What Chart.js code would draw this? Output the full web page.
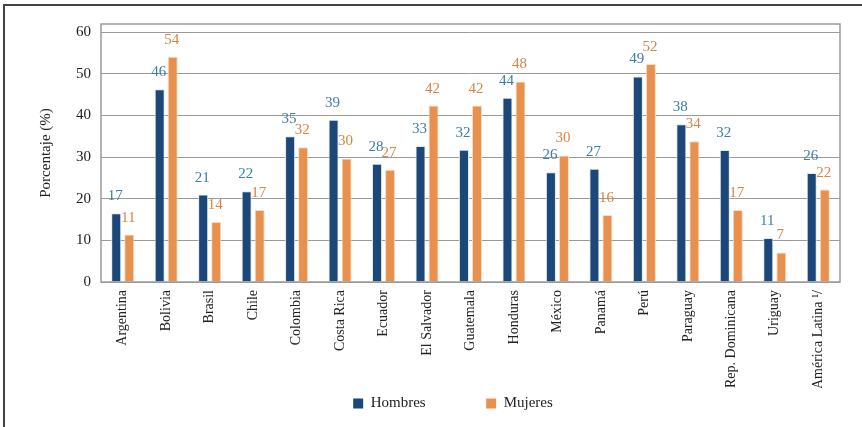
<!DOCTYPE html>
<html>
<head>
<meta charset="utf-8">
<script src="https://cdn.jsdelivr.net/npm/chart.js@4"></script>
<style>
    html, body { margin: 0; padding: 0; background: #fff; }
    #frame {
        position: absolute; left: 3px; top: 4px; width: 859px; height: 423px;
        border-top: 2px solid #444; border-left: 2px solid #444;
    }
    #wrap { position: absolute; left: 0; top: 0; width: 862px; height: 427px; }
</style>
</head>
<body>
<div id="frame"></div>
<div id="wrap"><canvas id="chart" width="862" height="427"></canvas></div>
<script>
const countries = ["Argentina", "Bolivia", "Brasil", "Chile", "Colombia", "Costa Rica", "Ecuador",
    "El Salvador", "Guatemala", "Honduras", "México", "Panamá", "Perú", "Paraguay",
    "Rep. Dominicana", "Uriguay", "América Latina \u00B9/"];
const hombres = [16.5, 46.3, 21.0, 21.8, 35.0, 39.0, 28.4, 32.7, 31.8, 44.3, 26.4, 27.2, 49.4, 37.9, 31.7, 10.6, 26.2];
const mujeres = [11.4, 54.1, 14.4, 17.3, 32.4, 29.7, 27.0, 42.4, 42.4, 48.2, 30.4, 16.1, 52.4, 33.8, 17.3, 7.1, 22.2];
const yTicks = [0, 10, 20, 30, 40, 50, 60];

const serif = "'Liberation Serif', 'DejaVu Serif', serif";

// gray box round the plot area
const plotFrame = {
    id: "plotFrame",
    afterDraw(chart) {
        const a = chart.chartArea;
        const ctx = chart.ctx;
        ctx.save();
        ctx.strokeStyle = "#9a9a9a";
        ctx.lineWidth = 1.5;
        ctx.strokeRect(a.left, a.top, a.right - a.left, a.bottom - a.top);
        ctx.restore();
    }
};

// value labels above bars
const valueLabels = {
    id: "valueLabels",
    afterDatasetsDraw(chart) {
        const ctx = chart.ctx;
        const colors = ["#3b7fa8", "#d98440"];
        ctx.save();
        ctx.font = "15px " + serif;
        ctx.textAlign = "center";
        ctx.textBaseline = "alphabetic";
        chart.data.datasets.forEach((ds, i) => {
            ctx.fillStyle = colors[i];
            chart.getDatasetMeta(i).data.forEach((bar, j) => {
                ctx.fillText(String(Math.round(ds.data[j])), bar.x - 1, bar.y - 13);
            });
        });
        ctx.restore();
    }
};

// legend sits a bit right of the page centre
const legendShift = {
    id: "legendShift",
    afterLayout(chart) {
        chart.legend.left += 38;
    }
};

new Chart(document.getElementById("chart"), {
    type: "bar",
    data: {
        labels: countries,
        datasets: [{
            label: "Hombres",
            data: hombres,
            backgroundColor: "#1b4779",
            borderColor: "#dfe6ee",
            borderWidth: 1,
            categoryPercentage: 0.6,
            barPercentage: 0.77
        }, {
            label: "Mujeres",
            data: mujeres,
            backgroundColor: "#e8914e",
            borderColor: "#f7dcc6",
            borderWidth: 1,
            categoryPercentage: 0.6,
            barPercentage: 0.77
        }]
    },
    plugins: [plotFrame, valueLabels, legendShift],
    options: {
        responsive: false,
        animation: false,
        layout: { padding: { left: 28, right: 22, top: 24, bottom: 6 } },
        plugins: {
            tooltip: { enabled: false },
            legend: {
                position: "bottom",
                labels: {
                    font: { family: serif, size: 15 },
                    color: "#222",
                    boxWidth: 10,
                    boxHeight: 10,
                    padding: 8,
                    generateLabels(chart) {
                        const items = Chart.defaults.plugins.legend.labels.generateLabels(chart);
                        items[0].text += "\u2003\u2003\u2003\u2002";
                        items.forEach(it => { it.lineWidth = 0; });
                        return items;
                    }
                }
            }
        },
        scales: {
            y: {
                min: 0,
                max: 62,
                afterBuildTicks(axis) {
                    axis.ticks = yTicks.map(v => ({ value: v }));
                },
                title: {
                    display: true,
                    text: "Porcentaje (%)",
                    font: { family: serif, size: 15 },
                    color: "#222",
                    padding: { top: 9, bottom: 11 }
                },
                ticks: {
                    font: { family: serif, size: 15 },
                    color: "#222",
                    padding: 10
                },
                grid: { color: "#9a9a9a", lineWidth: 1, drawTicks: false },
                border: { display: false }
            },
            x: {
                afterFit(axis) {
                    axis.height = 106;
                },
                ticks: {
                    font: { family: serif, size: 14 },
                    color: "#222",
                    minRotation: 90,
                    maxRotation: 90,
                    autoSkip: false,
                    padding: 0
                },
                grid: { display: false },
                border: { display: false }
            }
        }
    }
});
</script>
</body>
</html>
